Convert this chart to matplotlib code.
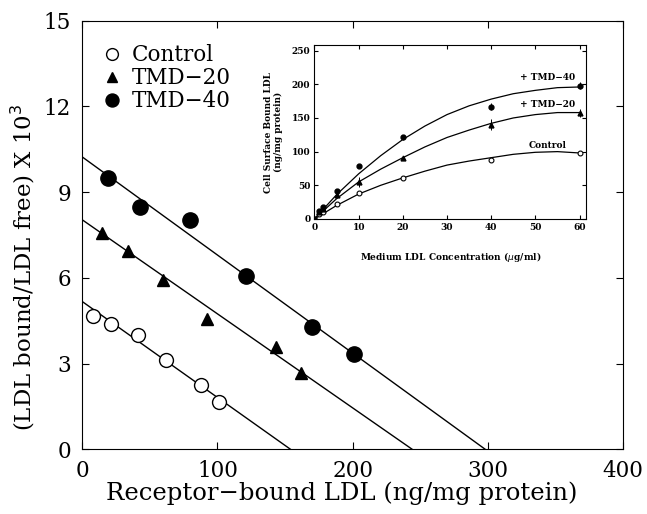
import matplotlib
matplotlib.use("Agg")
import matplotlib.pyplot as plt

plt.rcParams['font.family'] = ['DejaVu Serif']

# Scatchard plot data (main panel)
ctrl_x = [8, 21, 41, 62, 88, 101]
ctrl_y = [4.65, 4.38, 3.99, 3.13, 2.25, 1.66]
tmd20_x = [15, 34, 60, 92, 143, 162]
tmd20_y = [7.56, 6.92, 5.92, 4.57, 3.58, 2.67]
tmd40_x = [19, 43, 80, 121, 170, 201]
tmd40_y = [9.5, 8.48, 8.02, 6.07, 4.26, 3.33]

# regression lines (end points)
ctrl_line_x = [0, 154]
ctrl_line_y = [5.17, 0]
tmd20_line_x = [0, 244]
tmd20_line_y = [8.03, 0]
tmd40_line_x = [0, 298]
tmd40_line_y = [10.23, 0]

# inset: cell surface bound LDL vs medium LDL
conc = [0, 1, 2, 5, 10, 20, 40, 60]
ins_ctrl = [0, 8, 10, 22, 38, 61, 88, 98]
ins_tmd20 = [0, 10, 15, 35, 55, 90, 140, 157]
ins_tmd40 = [0, 12, 18, 42, 78, 121, 167, 198]
err20 = [0, 0, 0, 0, 7, 0, 8, 6]
err40 = [0, 0, 0, 0, 0, 4, 5, 5]

curve_x = [0, 5, 10, 15, 20, 25, 30, 35, 40, 45, 50, 55, 60]
curve_ctrl = [0, 20, 37, 50, 61, 71, 80, 86, 91, 96, 99, 100, 98]
curve_tmd20 = [0, 30, 55, 74, 91, 107, 121, 132, 142, 150, 155, 158, 158]
curve_tmd40 = [0, 36, 67, 94, 118, 138, 155, 168, 178, 186, 191, 195, 196]

fig = plt.figure(figsize=(6.47, 5.14), dpi=100)
ax = fig.add_axes([0.127, 0.126, 0.836, 0.834])

ax.plot(ctrl_line_x, ctrl_line_y, color='black', lw=1)
ax.plot(tmd20_line_x, tmd20_line_y, color='black', lw=1)
ax.plot(tmd40_line_x, tmd40_line_y, color='black', lw=1)
ax.plot(ctrl_x, ctrl_y, 'o', mfc='white', mec='black', ms=10, mew=1, label='Control')
ax.plot(tmd20_x, tmd20_y, '^', color='black', ms=9, label='TMD\u221220')
ax.plot(tmd40_x, tmd40_y, 'o', color='black', ms=11, label='TMD\u221240')

ax.set_xlim(0, 400)
ax.set_ylim(0, 15)
ax.set_xticks([0, 100, 200, 300, 400])
ax.set_yticks([0, 3, 6, 9, 12, 15])
ax.tick_params(direction='in', top=True, right=True, labelsize=15.5, length=5, pad=8)
ax.set_xlabel('Receptor\u2212bound LDL (ng/mg protein)', fontsize=17.5)
ax.set_ylabel('(LDL bound/LDL free) X 10$^3$', fontsize=16.5)
ax.xaxis.set_label_coords(0.48, -0.075)
ax.yaxis.set_label_coords(-0.083, 0.425)
ax.legend(loc='upper left', frameon=False, fontsize=15.5, handletextpad=0.3,
          borderpad=0.3, labelspacing=0.05, handlelength=1.2, markerscale=0.85,
          bbox_to_anchor=(0.0, 0.985))

# inset
ins = fig.add_axes([0.486, 0.574, 0.42, 0.338])
ins.plot(curve_x, curve_ctrl, color='black', lw=0.9)
ins.plot(curve_x, curve_tmd20, color='black', lw=0.9)
ins.plot(curve_x, curve_tmd40, color='black', lw=0.9)
ins.plot(conc, ins_ctrl, 'o', mfc='white', mec='black', ms=3.5, mew=0.8)
ins.errorbar(conc, ins_tmd20, yerr=err20, fmt='^', color='black', ms=3.5,
             elinewidth=0.7, capsize=0)
ins.errorbar(conc, ins_tmd40, yerr=err40, fmt='o', color='black', ms=3.5,
             elinewidth=0.7, capsize=0)
ins.text(46.5, 210, '+ TMD\u221240', fontsize=6.5, fontweight='bold', va='center')
ins.text(46.5, 170, '+ TMD\u221220', fontsize=6.5, fontweight='bold', va='center')
ins.text(48.5, 109, 'Control', fontsize=6.5, fontweight='bold', va='center')
ins.set_xlim(0, 61.5)
ins.set_ylim(0, 258)
ins.set_xticks([0, 10, 20, 30, 40, 50, 60])
ins.set_yticks([0, 50, 100, 150, 200, 250])
ins.tick_params(direction='in', top=True, right=True, labelsize=6.5, length=3, pad=3)
for lab in ins.get_xticklabels() + ins.get_yticklabels():
    lab.set_fontweight('bold')
ins.set_xlabel('Medium LDL Concentration ($\\mu$g/ml)', fontsize=6.5,
               fontweight='bold', labelpad=13)
ins.set_ylabel('Cell Surface Bound LDL\n(ng/mg protein)', fontsize=6.5,
               fontweight='bold', labelpad=6)

fig.savefig('out.png', dpi=100)
